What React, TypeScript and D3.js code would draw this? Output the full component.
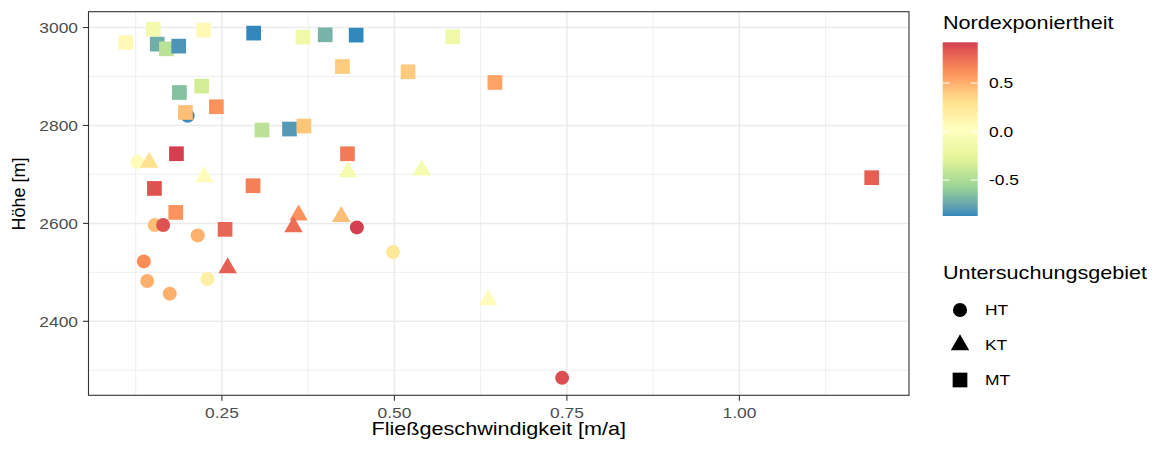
import React from 'react';
import * as d3 from 'd3';

// ---- data ----
const htFlow = [0.2004, 0.1276, 0.1527, 0.1648, 0.2149, 0.4456, 0.4981, 0.1368, 0.1417, 0.2289, 0.1744, 0.7431];
const htElev = [2819.8, 2725.3, 2596.7, 2596.7, 2575.5, 2591.8, 2541.6, 2522.4, 2482.4, 2486.5, 2456.5, 2284.5];
const htNorth = [-0.85, 0.05, 0.45, 0.85, 0.5, 0.92, 0.25, 0.62, 0.5, 0.18, 0.5, 0.87];

const ktFlow = [0.1446, 0.2246, 0.4326, 0.5397, 0.3611, 0.3538, 0.4229, 0.2583, 0.636];
const ktElev = [2724.3, 2694.7, 2705.0, 2708.8, 2616.9, 2593.0, 2613.9, 2509.0, 2444.3];
const ktNorth = [0.3, 0.05, -0.1, -0.1, 0.6, 0.75, 0.45, 0.8, 0.05];

const mtFlow = [0.1107, 0.1504, 0.1562, 0.1696, 0.1874, 0.2236, 0.296, 0.3674, 0.3997, 0.4446, 0.5845, 0.1884, 0.2207, 0.242,
  0.1971, 0.3081, 0.348, 0.3689, 0.4247, 0.5198, 0.6457, 0.432, 0.1841, 0.1522, 0.2951, 0.1831, 0.2546, 1.1918];
const mtElev = [2969.4, 2996.7, 2966.1, 2956.5, 2962.0, 2994.7, 2988.6, 2980.4, 2985.1, 2984.5, 2981.0, 2867.3, 2880.4, 2838.2,
  2826.5, 2790.6, 2792.7, 2798.8, 2920.4, 2909.6, 2887.8, 2742.2, 2742.2, 2671.4, 2676.9, 2622.4, 2587.8, 2693.3];
const mtNorth = [0.08, -0.12, -0.72, -0.45, -0.82, 0.08, -0.87, -0.15, -0.7, -0.87, -0.15, -0.65, -0.35, 0.6,
  0.45, -0.45, -0.8, 0.42, 0.4, 0.4, 0.55, 0.7, 0.92, 0.85, 0.68, 0.6, 0.78, 0.8];

const areas = ['HT', 'KT', 'MT'];
const xTicks = [0.25, 0.5, 0.75, 1.0];
const xTickLabels = ['0.25', '0.50', '0.75', '1.00'];
const xMinor = [0.125, 0.375, 0.625, 0.875, 1.125];
const yTicks = [2400, 2600, 2800, 3000];
const yMinor = [2300, 2500, 2700, 2900];
const colorTicks = [0.5, 0.0, -0.5];
const colorTickLabels = ['0.5', '0.0', '-0.5'];
const spectral7 = ['#3288BD', '#99D594', '#E6F598', '#FFFFBF', '#FEE08B', '#FC8D59', '#D53E4F'];

// ---- layout ----
const W = 1161, H = 450;
const P = { left: 88.5, right: 909, top: 11.7, bottom: 395.3 };
const SX = 1.2;
const FONT = '"Liberation Sans", Arial, Helvetica, sans-serif';

type Pt = { x: number; y: number; c: number; area: string };
const build = (xs: number[], ys: number[], cs: number[], area: string): Pt[] =>
  xs.map((x, i) => ({ x, y: ys[i], c: cs[i], area }));
const points: Pt[] = [
  ...build(htFlow, htElev, htNorth, 'HT'),
  ...build(ktFlow, ktElev, ktNorth, 'KT'),
  ...build(mtFlow, mtElev, mtNorth, 'MT'),
];

const expand = (ext: [number, number]) => {
  const r = ext[1] - ext[0];
  return [ext[0] - 0.05 * r, ext[1] + 0.05 * r];
};

const xScale = d3.scaleLinear().domain(expand(d3.extent(points, d => d.x) as [number, number])).range([P.left, P.right]);
const yScale = d3.scaleLinear().domain(expand(d3.extent(points, d => d.y) as [number, number])).range([P.bottom, P.top]);
const cExt = d3.extent(points, d => d.c) as [number, number];
const cNorm = d3.scaleLinear().domain(cExt).range([0, 1]);
const interp = d3.piecewise(d3.interpolateLab, spectral7);
const color = (v: number) => interp(Math.max(0, Math.min(1, cNorm(v))));

const symbolPath: Record<string, string> = {
  HT: d3.symbol(d3.symbolCircle, Math.PI * 7 * 7)() as string,
  KT: d3.symbol(d3.symbolTriangle, 147.7)() as string,
  MT: d3.symbol(d3.symbolSquare, 14.7 * 14.7)() as string,
};

const T = ({ x, y, anchor = 'start', size, fill = '#000', children }: any) => (
  <text transform={`translate(${x},${y}) scale(${SX},1)`} textAnchor={anchor} fontSize={size} fill={fill} fontFamily={FONT}>
    {children}
  </text>
);

// colorbar
const CB = { x: 942.7, w: 35, top: 42.3, bottom: 216 };
const cbScale = d3.scaleLinear().domain(cExt).range([CB.bottom, CB.top]);
const gradStops = d3.range(0, 21).map(i => i / 20);

export default function App() {
  return (
    <svg width={W} height={H} style={{ position: 'absolute', left: 0, top: 0, background: '#fff' }}>
      <rect x={0} y={0} width={W} height={H} fill="#fff" />
      <defs>
        <linearGradient id="cbGrad" x1="0" y1="1" x2="0" y2="0">
          {gradStops.map(t => (
            <stop key={t} offset={t} stopColor={interp(t)} />
          ))}
        </linearGradient>
      </defs>
      {/* grid */}
      {xMinor.map(v => (
        <line key={'xm' + v} x1={xScale(v)} x2={xScale(v)} y1={P.top} y2={P.bottom} stroke="#ebebeb" strokeWidth={0.8} />
      ))}
      {yMinor.map(v => (
        <line key={'ym' + v} x1={P.left} x2={P.right} y1={yScale(v)} y2={yScale(v)} stroke="#ebebeb" strokeWidth={0.8} />
      ))}
      {xTicks.map(v => (
        <line key={'xM' + v} x1={xScale(v)} x2={xScale(v)} y1={P.top} y2={P.bottom} stroke="#ebebeb" strokeWidth={1.5} />
      ))}
      {yTicks.map(v => (
        <line key={'yM' + v} x1={P.left} x2={P.right} y1={yScale(v)} y2={yScale(v)} stroke="#ebebeb" strokeWidth={1.5} />
      ))}
      {/* points */}
      {points.map((p, i) => (
        <path key={i} d={symbolPath[p.area]} transform={`translate(${xScale(p.x)},${yScale(p.y)})`} fill={color(p.c)} />
      ))}
      {/* panel border */}
      <rect x={P.left} y={P.top} width={P.right - P.left} height={P.bottom - P.top} fill="none" stroke="#333" strokeWidth={1.1} />
      {/* axes ticks */}
      {xTicks.map((v, i) => (
        <g key={'xt' + v}>
          <line x1={xScale(v)} x2={xScale(v)} y1={P.bottom} y2={P.bottom + 5.5} stroke="#333" strokeWidth={1.1} />
          <T x={xScale(v)} y={418} anchor="middle" size={14.5} fill="#4d4d4d">{xTickLabels[i]}</T>
        </g>
      ))}
      {yTicks.map(v => (
        <g key={'yt' + v}>
          <line x1={P.left - 5.5} x2={P.left} y1={yScale(v)} y2={yScale(v)} stroke="#333" strokeWidth={1.1} />
          <T x={78} y={yScale(v) + 5.2} anchor="end" size={14.5} fill="#4d4d4d">{String(v)}</T>
        </g>
      ))}
      {/* axis titles */}
      <T x={(P.left + P.right) / 2} y={435} anchor="middle" size={18}>Fließgeschwindigkeit [m/a]</T>
      <text transform="translate(25,194) rotate(-90)" textAnchor="middle" fontSize={18} fontFamily={FONT} fill="#000">Höhe [m]</text>

      {/* colour legend */}
      <T x={943} y={29.3} size={18}>Nordexponiertheit</T>
      <rect x={CB.x} y={CB.top} width={CB.w} height={CB.bottom - CB.top} fill="url(#cbGrad)" />
      {colorTicks.map((v, i) => (
        <g key={'ct' + v}>
          <line x1={CB.x} x2={CB.x + 7} y1={cbScale(v)} y2={cbScale(v)} stroke="#fff" strokeWidth={1} />
          <line x1={CB.x + CB.w - 7} x2={CB.x + CB.w} y1={cbScale(v)} y2={cbScale(v)} stroke="#fff" strokeWidth={1} />
          <T x={989} y={cbScale(v) + 5.2} size={14.5}>{colorTickLabels[i]}</T>
        </g>
      ))}

      {/* shape legend */}
      <T x={943} y={279.3} size={18}>Untersuchungsgebiet</T>
      {areas.map((a, i) => (
        <g key={a}>
          <path d={symbolPath[a]} transform={`translate(960,${310 + i * 35})`} fill="#000" />
          <T x={985} y={310 + i * 35 + 5.2} size={14.5}>{a}</T>
        </g>
      ))}
    </svg>
  );
}
